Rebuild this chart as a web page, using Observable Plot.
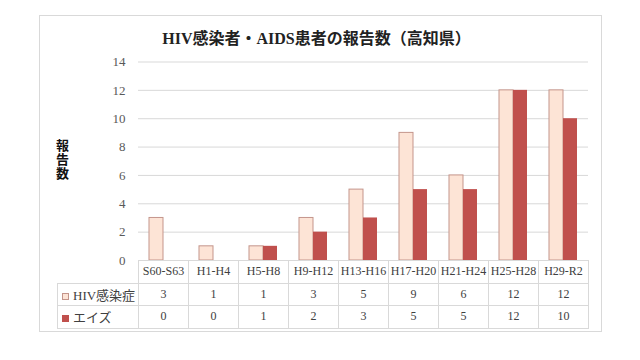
<!DOCTYPE html>
<html><head><meta charset="utf-8">
<script src="https://cdn.jsdelivr.net/npm/d3@7"></script>
<script src="https://cdn.jsdelivr.net/npm/@observablehq/plot@0.6"></script>
<style>
body{margin:0;background:#fff;}
#wrap{position:relative;width:640px;height:360px;overflow:hidden;background:#fff;font-family:"Liberation Serif","Noto Sans CJK JP",serif;}
#frame{position:absolute;left:39px;top:15px;width:563px;height:317px;border:1px solid #d9d9d9;box-sizing:border-box;}
#title{position:absolute;left:0;width:633px;top:25px;text-align:center;font-size:16px;color:#222;font-weight:bold;}
#ylabel{position:absolute;left:53px;top:139px;font-family:"Noto Sans CJK JP",sans-serif;font-size:13px;font-weight:bold;line-height:18px;color:#111;writing-mode:vertical-rl;text-orientation:upright;letter-spacing:1px;}
#chart{position:absolute;left:0;top:0;}
#chart svg{font-family:"Liberation Serif","Noto Sans CJK JP",serif;}
#tbl{position:absolute;border-collapse:collapse;table-layout:fixed;font-size:12px;color:#404040;}
#tbl td{border:1px solid #d9d9d9;padding:0;text-align:center;height:21.5px;white-space:nowrap;overflow:hidden;}
#tbl td.blank{border:none;}
#tbl td.leg{text-align:left;padding-left:4px;font-size:13px;}
.sw{display:inline-block;width:7px;height:7px;margin-right:4px;vertical-align:0px;box-sizing:border-box;}
</style></head>
<body><div id="wrap">
<div id="frame"></div>
<div id="title">HIV感染者・AIDS患者の報告数（高知県）</div>
<div id="ylabel">報告数</div>
<div id="chart"></div>
</div>
<script>
const categories = ["S60-S63","H1-H4","H5-H8","H9-H12","H13-H16","H17-H20","H21-H24","H25-H28","H29-R2"];
const seriesNames = ["HIV感染症","エイズ"];
const hivValues = [3,1,1,3,5,9,6,12,12];
const aidsValues = [0,0,1,2,3,5,5,12,10];
const yTicks = [0,2,4,6,8,10,12,14];
const seriesFill = ["#fde4d6","#c0504d"];
const seriesStroke = ["#c4958b","#c0504d"];

const hivRows = categories.map((c,i)=>({cat:c, series:seriesNames[0], value:hivValues[i]}));
const aidsRows = categories.map((c,i)=>({cat:c, series:seriesNames[1], value:aidsValues[i]}));

const chart = Plot.plot({
  width:640, height:280,
  marginTop:61.5, marginBottom:20, marginLeft:136, marginRight:50.5,
  style:{background:"transparent", fontSize:"13px", color:"#595959"},
  fx:{domain:categories, padding:0, axis:null, label:null},
  x:{domain:seriesNames, paddingInner:0, paddingOuter:0.7, axis:null, label:null},
  y:{domain:[0,14], ticks:yTicks, tickSize:0, tickPadding:13, label:null},
  marks:[
    Plot.ruleY(yTicks.slice(1), {stroke:"#d9d9d9", strokeWidth:1}),
    Plot.barY(hivRows, {fx:"cat", x:"series", y:"value", fill:seriesFill[0], stroke:seriesStroke[0], strokeWidth:1}),
    Plot.barY(aidsRows.filter(d=>d.value>0), {fx:"cat", x:"series", y:"value", fill:seriesFill[1]})
  ]
});
document.getElementById("chart").appendChild(chart);

// data table aligned to the fx scale
const fx = chart.scale("fx");
const y = chart.scale("y");
const step = fx.step ?? fx.bandwidth;
const x0 = fx.apply(categories[0]);
const legLeft = 57;
const tbl = document.createElement("table");
tbl.id = "tbl";
tbl.style.left = legLeft + "px";
tbl.style.top = (y.apply(0)) + "px";
tbl.style.width = (x0 - legLeft + step*categories.length) + "px";
const cg = document.createElement("colgroup");
const c0 = document.createElement("col"); c0.style.width = (x0 - legLeft) + "px"; cg.appendChild(c0);
categories.forEach(()=>{const c=document.createElement("col"); c.style.width=step+"px"; cg.appendChild(c);});
tbl.appendChild(cg);
const r0 = tbl.insertRow();
const b = r0.insertCell(); b.className="blank";
categories.forEach(c=>{const td=r0.insertCell(); td.textContent=c;});
[hivValues, aidsValues].forEach((vals,si)=>{
  const r = tbl.insertRow();
  const lc = r.insertCell(); lc.className="leg";
  const sw = document.createElement("span"); sw.className="sw";
  sw.style.background = seriesFill[si]; sw.style.border = "1px solid " + seriesStroke[si];
  lc.appendChild(sw); lc.appendChild(document.createTextNode(seriesNames[si]));
  vals.forEach(v=>{const td=r.insertCell(); td.textContent=v;});
});
document.getElementById("wrap").appendChild(tbl);
</script>
</body></html>
